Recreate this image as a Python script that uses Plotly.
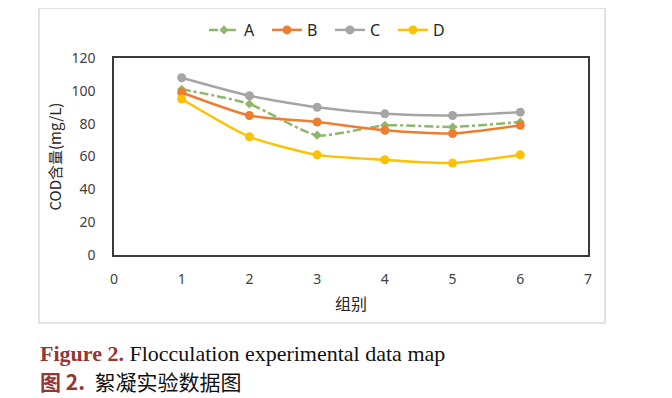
import plotly.graph_objects as go

groups = [1, 2, 3, 4, 5, 6]
series_a = [101, 92, 73, 79, 78, 81]
series_b = [99, 85, 81, 76, 74, 79]
series_c = [108, 97, 90, 86, 85, 87]
series_d = [95, 72, 61, 58, 56, 61]

x_ticks = [0, 1, 2, 3, 4, 5, 6, 7]
y_ticks = [0, 20, 40, 60, 80, 100, 120]

OFF = 8  # browser default body margin
W, H = 672 - OFF, 398 - OFF
L, R, T, B = 114 - OFF, 588 - OFF, 58 - OFF, 255 - OFF
pw, ph = R - L, B - T

def px(x):
    return (x - OFF - L) / pw

def py(y):
    return (B - (y - OFF)) / ph

fig = go.Figure()
fig.add_trace(go.Scatter(x=groups, y=series_a, name="A", mode="lines+markers",
                         line=dict(color="#8DB86B", width=2.5, dash="dashdot", shape="spline", smoothing=0.6),
                         marker=dict(symbol="diamond", size=7, color="#8DB86B")))
fig.add_trace(go.Scatter(x=groups, y=series_b, name="B", mode="lines+markers",
                         line=dict(color="#ED7D31", width=2.5, shape="spline", smoothing=0.6),
                         marker=dict(symbol="circle", size=9, color="#ED7D31")))
fig.add_trace(go.Scatter(x=groups, y=series_c, name="C", mode="lines+markers",
                         line=dict(color="#A5A5A5", width=2.5, shape="spline", smoothing=0.6),
                         marker=dict(symbol="circle", size=9, color="#A5A5A5")))
fig.add_trace(go.Scatter(x=groups, y=series_d, name="D", mode="lines+markers",
                         line=dict(color="#FFC000", width=2.5, shape="spline", smoothing=0.6),
                         marker=dict(symbol="circle", size=9, color="#FFC000")))

axis_font = dict(family="Noto Sans, Open Sans, sans-serif", size=14, color="#404040")

fig.update_layout(
    width=W, height=H,
    margin=dict(l=L, r=W - R, t=T, b=H - B, pad=0, autoexpand=False),
    paper_bgcolor="white", plot_bgcolor="white",
    showlegend=True,
    legend=dict(orientation="h", x=px(330), y=py(30), xanchor="center", yanchor="middle",
                font=dict(family="Noto Sans, Open Sans, sans-serif", size=16, color="#262626"),
                bgcolor="rgba(0,0,0,0)", itemwidth=30, tracegroupgap=0,
                entrywidth=18, entrywidthmode="pixels"),
    xaxis=dict(range=[0, 7], tickvals=x_ticks, ticktext=[str(v) for v in x_ticks],
               showgrid=False, zeroline=False, showline=True, mirror=True,
               linecolor="#3a3a3a", linewidth=1.5, ticks="", tickfont=axis_font,
               ticklabelstandoff=10, automargin=False),
    yaxis=dict(range=[0, 120], tickvals=y_ticks, ticktext=[str(v) for v in y_ticks],
               showgrid=False, zeroline=False, showline=True, mirror=True,
               linecolor="#3a3a3a", linewidth=1.5, ticks="", tickfont=axis_font,
               ticklabelstandoff=14, automargin=False),
    shapes=[dict(type="rect", xref="paper", yref="paper",
                 x0=px(39), x1=px(605), y0=py(323), y1=py(8),
                 line=dict(color="#D9D9D9", width=1.5), fillcolor="rgba(0,0,0,0)", layer="below")],
    annotations=[
        dict(text="COD含量(mg/L)", xref="paper", yref="paper", x=px(54), y=0.5,
             textangle=-90, showarrow=False, xanchor="center", yanchor="middle",
             font=dict(family="Noto Sans CJK SC, Noto Sans, sans-serif", size=15, color="#262626")),
        dict(text="组别", xref="paper", yref="paper", x=0.5, y=py(303),
             showarrow=False, xanchor="center", yanchor="middle",
             font=dict(family="Noto Sans CJK SC, sans-serif", size=16, color="#262626")),
        dict(text="<b><span style='color:#943634'>Figure 2.</span></b> Flocculation experimental data map",
             xref="paper", yref="paper", x=px(38), y=py(353), showarrow=False,
             xanchor="left", yanchor="middle",
             font=dict(family="Liberation Serif, Times New Roman, serif", size=22, color="#111111")),
        dict(text="<b><span style='color:#943634'>图 2.</span></b>  絮凝实验数据图",
             xref="paper", yref="paper", x=px(38), y=py(381), showarrow=False,
             xanchor="left", yanchor="middle",
             font=dict(family="Noto Sans CJK SC, sans-serif", size=21, color="#111111")),
    ],
)

fig.write_html("out.html")
